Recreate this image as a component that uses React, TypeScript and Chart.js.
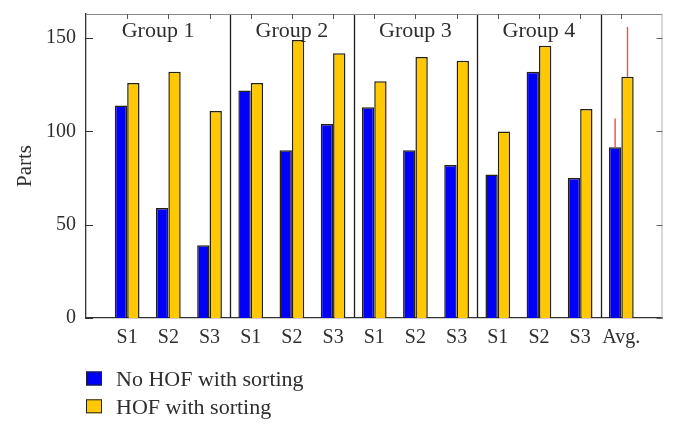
import React, { useEffect, useRef } from 'react';
import { Chart, registerables } from 'chart.js';

Chart.register(...registerables);

const categories = ['S1', 'S2', 'S3', 'S1', 'S2', 'S3', 'S1', 'S2', 'S3', 'S1', 'S2', 'S3', 'Avg.'];
const groupNames = ['Group 1', 'Group 2', 'Group 3', 'Group 4'];
const groupSizes = [3, 3, 3, 3, 1];
const noHofSorting = [114, 59, 39, 122, 90, 104, 113, 90, 82, 77, 132, 75, 91.6];
const hofSorting = [126, 132, 111, 126, 149, 142, 127, 140, 138, 100, 146, 112, 129.3];
const noHofError = [null, null, null, null, null, null, null, null, null, null, null, null, 15.4];
const hofError = [null, null, null, null, null, null, null, null, null, null, null, null, 26.8];
const yTicks = [0, 50, 100, 150];
const yMax = 163;
const seriesLabels = ['No HOF with sorting', 'HOF with sorting'];

const FONT = '"Liberation Serif", "DejaVu Serif", serif';
const TEXT = '#2e2e2e';

const overlay = {
  id: 'overlay',
  afterDatasetsDraw(chart: any) {
    const { ctx, chartArea: a, scales } = chart;
    const xs = scales.x;
    const ys = scales.y;
    const line = (x1: number, y1: number, x2: number, y2: number) => {
      ctx.beginPath();
      ctx.moveTo(x1, y1);
      ctx.lineTo(x2, y2);
      ctx.stroke();
    };
    ctx.save();

    // group separators
    const bounds: number[] = [];
    let pos = 0;
    groupSizes.forEach((n) => {
      pos += n;
      bounds.push(pos + 0.5);
    });
    ctx.strokeStyle = '#1c1c1c';
    ctx.lineWidth = 1.3;
    bounds.slice(0, groupSizes.length - 1).forEach((b) => {
      const px = Math.round(xs.getPixelForValue(b)) + 0.5;
      line(px, a.top, px, a.bottom);
    });

    // group labels
    ctx.fillStyle = TEXT;
    ctx.font = `22px ${FONT}`;
    ctx.textAlign = 'center';
    ctx.textBaseline = 'alphabetic';
    let start = a.left;
    groupNames.forEach((g, k) => {
      const end = xs.getPixelForValue(bounds[k]);
      ctx.fillText(g, (start + end) / 2, a.top + 23.3);
      start = end;
    });

    // error bars
    ctx.strokeStyle = '#ff4a3d';
    ctx.lineWidth = 1.4;
    const errs = [noHofError, hofError];
    errs.forEach((arr, d) => {
      const meta = chart.getDatasetMeta(d);
      const vals = d === 0 ? noHofSorting : hofSorting;
      arr.forEach((e, i) => {
        if (e == null) return;
        const el = meta.data[i];
        const top = ys.getPixelForValue(vals[i] + e);
        line(el.x, top, el.x, el.y);
      });
    });

    // frame: top and right
    ctx.strokeStyle = '#8a8a8a';
    ctx.lineWidth = 1;
    line(a.left, a.top + 0.5, a.right, a.top + 0.5);
    ctx.strokeStyle = '#b0b0b0';
    line(a.right - 0.5, a.top, a.right - 0.5, a.bottom);

    // top ticks (inward)
    ctx.strokeStyle = '#555';
    ctx.lineWidth = 1;
    categories.forEach((_, i) => {
      const px = Math.round(xs.getPixelForValue(i + 1)) + 0.5;
      line(px, a.top, px, a.top + 5);
    });
    // left and right ticks (inward)
    yTicks.forEach((v) => {
      const py = Math.round(ys.getPixelForValue(v)) + 0.5;
      ctx.strokeStyle = '#333';
      line(a.left, py, a.left + 7, py);
      ctx.strokeStyle = '#666';
      line(a.right, py, a.right - 6, py);
    });

    ctx.restore();
  },
  afterDraw(chart: any) {
    const { ctx } = chart;
    ctx.save();
    ctx.font = `22px ${FONT}`;
    ctx.textAlign = 'left';
    ctx.textBaseline = 'alphabetic';
    chart.data.datasets.forEach((ds: any, k: number) => {
      const by = 371.5 + k * 27.8;
      ctx.fillStyle = ds.backgroundColor;
      ctx.fillRect(86, by, 16, 14);
      ctx.strokeStyle = '#222';
      ctx.lineWidth = 1;
      ctx.strokeRect(86.5, by + 0.5, 15, 13);
      ctx.fillStyle = TEXT;
      ctx.fillText(ds.label, 116, by + 14.3);
    });
    ctx.restore();
  },
};

export default function App() {
  const ref = useRef<HTMLCanvasElement | null>(null);
  useEffect(() => {
    if (!ref.current) return;
    const chart = new Chart(ref.current, {
      type: 'bar',
      data: {
        datasets: [
          {
            label: seriesLabels[0],
            data: noHofSorting.map((v, i) => ({ x: i + 1, y: v })),
            backgroundColor: '#0000f6',
            borderColor: '#262010',
            borderWidth: 1.5,
          },
          {
            label: seriesLabels[1],
            data: hofSorting.map((v, i) => ({ x: i + 1, y: v })),
            backgroundColor: '#ffc800',
            borderColor: '#262010',
            borderWidth: 1.5,
          },
        ],
      },
      options: {
        responsive: false,
        animation: false,
        devicePixelRatio: 1,
        categoryPercentage: 0.6,
        barPercentage: 1,
        layout: { padding: { left: 0, top: 14, right: 14.5, bottom: 0 } },
        plugins: { legend: { display: false }, tooltip: { enabled: false } },
        scales: {
          x: {
            type: 'linear',
            min: 0,
            max: categories.length + 1,
            offset: false,
            grid: { display: false, drawTicks: false },
            border: { display: true, color: '#333', width: 1.3 },
            afterBuildTicks: (s: any) => {
              s.ticks = categories.map((_, i) => ({ value: i + 1 }));
            },
            afterFit: (s: any) => {
              s.height = 116;
              s.paddingLeft = 0;
              s.paddingRight = 0;
              s.paddingTop = 0;
              s.paddingBottom = 0;
            },
            ticks: {
              autoSkip: false,
              maxRotation: 0,
              padding: 8,
              color: TEXT,
              font: { family: FONT, size: 20 },
              callback: (v: any) => categories[Number(v) - 1] ?? '',
            },
          },
          y: {
            type: 'linear',
            min: 0,
            max: yMax,
            grid: { display: false, drawTicks: false },
            border: { display: true, color: '#333', width: 1.3 },
            afterBuildTicks: (s: any) => {
              s.ticks = yTicks.map((v) => ({ value: v }));
            },
            afterFit: (s: any) => {
              s.width = 86;
              s.paddingLeft = 0;
              s.paddingRight = 0;
              s.paddingTop = 0;
              s.paddingBottom = 0;
            },
            ticks: {
              padding: 10,
              color: TEXT,
              font: { family: FONT, size: 20 },
            },
            title: {
              display: true,
              text: 'Parts',
              color: TEXT,
              font: { family: FONT, size: 21 },
              padding: { top: 13, bottom: 0 },
            },
          },
        },
      },
      plugins: [overlay],
    });
    return () => chart.destroy();
  }, []);
  return (
    <div style={{ position: 'absolute', left: 0, top: 0, width: 677, height: 434, background: '#fff' }}>
      <canvas ref={ref} width={677} height={434} style={{ display: 'block' }} />
    </div>
  );
}
